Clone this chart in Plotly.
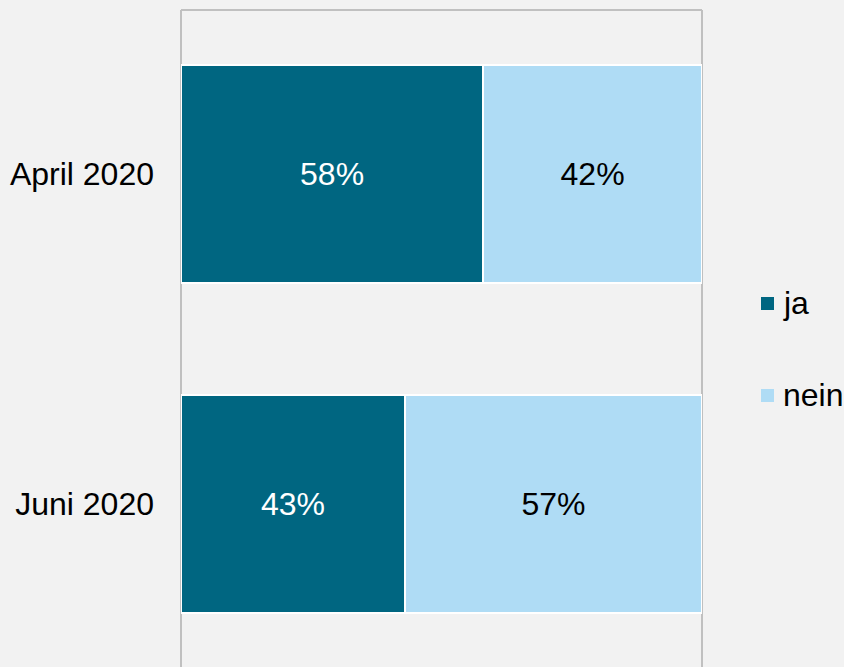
import plotly.graph_objects as go

categories = ["April 2020", "Juni 2020"]
ja = [58, 43]
nein = [42, 57]
series_names = ["ja", "nein"]
colors = ["#006681", "#afdcf5"]
text_colors = ["white", "black"]

FONT = "Liberation Sans, Arial, sans-serif"
FS = 32

W, H = 844, 667
ML, MR, MT, MB = 181, 142, 10, 0
PW, PH = W - ML - MR, H - MT - MB


def px_x(x):
    return (x - ML) / PW


def px_y(y):
    return (H - MB - y) / PH


fig = go.Figure()
for name, vals, col, tcol in zip(series_names, [ja, nein], colors, text_colors):
    fig.add_trace(go.Bar(
        y=categories, x=vals, name=name, orientation="h",
        marker=dict(color=col, line=dict(color="white", width=1.5)),
        text=[f"{v}%" for v in vals], textposition="inside",
        insidetextanchor="middle",
        textfont=dict(color=tcol, size=FS, family=FONT),
        showlegend=False,
    ))

shapes = [
    dict(type="line", xref="paper", yref="paper", x0=0, x1=0, y0=0, y1=1,
         line=dict(color="#c0c0c0", width=2), layer="below"),
    dict(type="line", xref="paper", yref="paper", x0=1, x1=1, y0=0, y1=1,
         line=dict(color="#c0c0c0", width=2), layer="below"),
    dict(type="line", xref="paper", yref="paper", x0=0, x1=1, y0=1, y1=1,
         line=dict(color="#c0c0c0", width=2), layer="below"),
]
annotations = []
legend_rows = [303, 395]  # pixel centres of legend rows
for name, col, cy in zip(series_names, colors, legend_rows):
    shapes.append(dict(type="rect", xref="paper", yref="paper",
                       x0=px_x(761), x1=px_x(774), y0=px_y(cy + 7), y1=px_y(cy - 6),
                       fillcolor=col, line=dict(width=0)))
    annotations.append(dict(text=name, xref="paper", yref="paper",
                            x=px_x(781), y=px_y(cy), xanchor="left", yanchor="middle",
                            showarrow=False, font=dict(size=FS, family=FONT, color="black")))

fig.update_layout(
    width=W, height=H,
    barmode="stack", bargap=0.34,
    paper_bgcolor="#f2f2f2", plot_bgcolor="#f2f2f2",
    margin=dict(l=ML, r=MR, t=MT, b=MB, autoexpand=False),
    font=dict(family=FONT, size=FS, color="black"),
    uniformtext=dict(minsize=FS, mode="show"),
    xaxis=dict(range=[0, 100], showgrid=False, zeroline=False, showticklabels=False,
               fixedrange=True),
    yaxis=dict(range=[1.494, -0.497], showgrid=False, zeroline=False,
               ticklabelstandoff=26, tickfont=dict(size=FS)),
    showlegend=False,
    shapes=shapes,
    annotations=annotations,
)

fig.write_html("out.html", config={"displayModeBar": False},
               post_script="document.body.style.margin='0px';document.body.style.background='#f2f2f2';")
